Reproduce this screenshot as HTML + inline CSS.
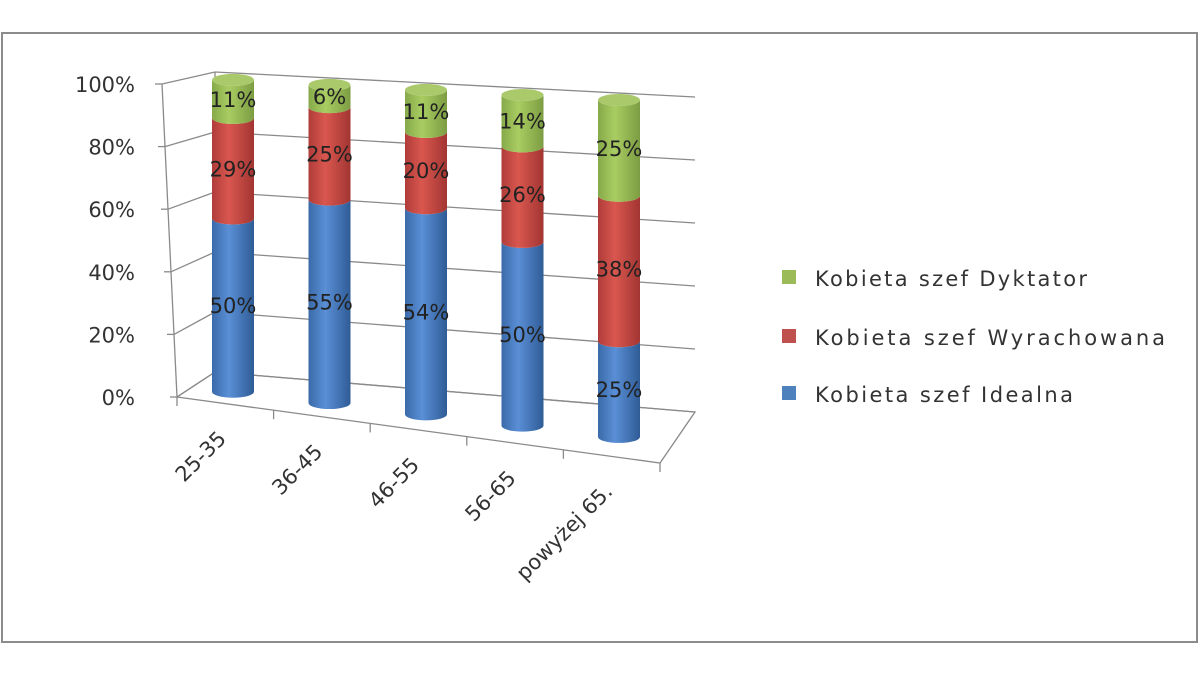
<!DOCTYPE html>
<html><head><meta charset="utf-8"><style>
html,body{margin:0;padding:0;background:#fff;}
svg{display:block;font-family:"DejaVu Sans","Liberation Sans",sans-serif;}
</style></head><body>
<svg id="c" width="1200" height="675" viewBox="0 0 1200 675">
<defs>
<linearGradient id="gb" x1="0" x2="1"><stop offset="0" stop-color="#3a6aa8"/><stop offset="0.4" stop-color="#5a8fd6"/><stop offset="1" stop-color="#2f5c96"/></linearGradient>
<linearGradient id="gr" x1="0" x2="1"><stop offset="0" stop-color="#b03c39"/><stop offset="0.4" stop-color="#d9574f"/><stop offset="1" stop-color="#a23532"/></linearGradient>
<linearGradient id="gg" x1="0" x2="1"><stop offset="0" stop-color="#86a94a"/><stop offset="0.4" stop-color="#a9cd62"/><stop offset="1" stop-color="#7c9c42"/></linearGradient>
</defs>
<rect x="2" y="33" width="1195" height="609" fill="#fff" stroke="#8c8c8c" stroke-width="2"/>
<g id="grid"></g><g id="bars"></g><g id="labels"></g>
<g font-size="21" fill="#333">
<rect x="782" y="270" width="14" height="14" fill="#9bbb59"/>
<text x="815" y="286" textLength="272">Kobieta szef Dyktator</text>
<rect x="782" y="329" width="14" height="14" fill="#c0504d"/>
<text x="815" y="345" textLength="350">Kobieta szef Wyrachowana</text>
<rect x="782" y="386" width="14" height="14" fill="#4f81bd"/>
<text x="815" y="402" textLength="258">Kobieta szef Idealna</text>
</g>
</svg>
<script>
const categories = ["25-35","36-45","46-55","56-65","powyżej 65."];
const idealna = [50,55,54,50,25];
const wyrachowana = [29,25,20,26,38];
const dyktator = [11,6,11,14,25];
const yTicks = [0,20,40,60,80,100];
const yTickLabels = ["0%","20%","40%","60%","80%","100%"];

const NS="http://www.w3.org/2000/svg";
function mk(tag,attrs,parent){const e=document.createElementNS(NS,tag);for(const k in attrs)e.setAttribute(k,attrs[k]);parent.appendChild(e);return e;}
const grid=document.getElementById('grid'),bars=document.getElementById('bars'),labels=document.getElementById('labels');
function backL(v){return 372-3*v;}
function backR(v){return 412-3.15*v;}
function frontY(v){return 397-3.13*v;}
function frontX(v){return 177-0.15*v;}
function cylX(i){return 233+96.5*i;}
function cylBottom(x){return 392+(x-235)*0.117;}
function cylTop(x){return 80+(x-235)*0.052;}
function catFront(i){const n=categories.length;return 177+(660-177)*(i+0.5)/n;}
function floorY(x){return 397+(x-177)*(66/483);}

const st={stroke:"#8a8a8a","stroke-width":"1.3",fill:"none"};
mk('polygon',{points:"177,397 660,463 695,412 215,372",fill:"none",stroke:"#8a8a8a","stroke-width":"1.3"},grid);
mk('line',Object.assign({x1:215,y1:72,x2:215,y2:372},st),grid);
mk('line',Object.assign({x1:162,y1:84,x2:177,y2:397},st),grid);
yTicks.forEach((v,k)=>{
  const l1=mk('line',Object.assign({x1:215,y1:backL(v),x2:695,y2:backR(v)},st),grid);
  
  
  mk('line',Object.assign({x1:frontX(v),y1:frontY(v),x2:215,y2:backL(v)},st),grid);
  mk('line',Object.assign({x1:frontX(v)-7,y1:frontY(v),x2:frontX(v),y2:frontY(v)},st),grid);
  const t=mk('text',{x:135,y:frontY(v)+8,"text-anchor":"end","font-size":"21",fill:"#333"},labels);
  t.textContent=yTickLabels[k];
  
  
});
for(let i=0;i<=categories.length;i++){
  const x=177+(660-177)*i/categories.length;
  mk('line',Object.assign({x1:x,y1:floorY(x),x2:x,y2:floorY(x)+9},st),grid);
}
categories.forEach((c,i)=>{
  const x=catFront(i)+2, y=floorY(x)+36;
  const t=mk('text',{x:x,y:y,"text-anchor":"end","font-size":"21",fill:"#333",transform:`rotate(-45 ${x} ${y})`},labels);
  t.textContent=c;
  
  
});
const rx=21,ry=6;
const series=[[idealna,"url(#gb)","#4f81bd","idealna"],[wyrachowana,"url(#gr)","#c0504d","wyrachowana"],[dyktator,"url(#gg)","#9bbb59","dyktator"]];
categories.forEach((c,i)=>{
  const cx=cylX(i),yb=cylBottom(cx),yt=cylTop(cx);
  const total=idealna[i]+wyrachowana[i]+dyktator[i];
  let acc=0;
  const g=mk('g',{},bars);
  
  
  series.forEach(([arr,fill,col,nm],s)=>{
    const v=arr[i];
    const y0=yb-(yb-yt)*acc/total, y1=yb-(yb-yt)*(acc+v)/total;
    const p=mk('path',{d:`M${cx-rx},${y1} L${cx-rx},${y0} A${rx},${ry} 0 0 0 ${cx+rx},${y0} L${cx+rx},${y1} A${rx},${ry} 0 0 1 ${cx-rx},${y1} Z`,fill:fill},g);
    
    
    if(s===2){mk('ellipse',{cx:cx,cy:y1,rx:rx,ry:ry,fill:"#a9c96a"},g);}
    const t=mk('text',{x:cx,y:(y0+y1)/2+8,"text-anchor":"middle","font-size":"21",fill:"#222"},labels);
    t.textContent=v+"%";
    
    
    acc+=v;
  });
});
</script>
</body></html>
